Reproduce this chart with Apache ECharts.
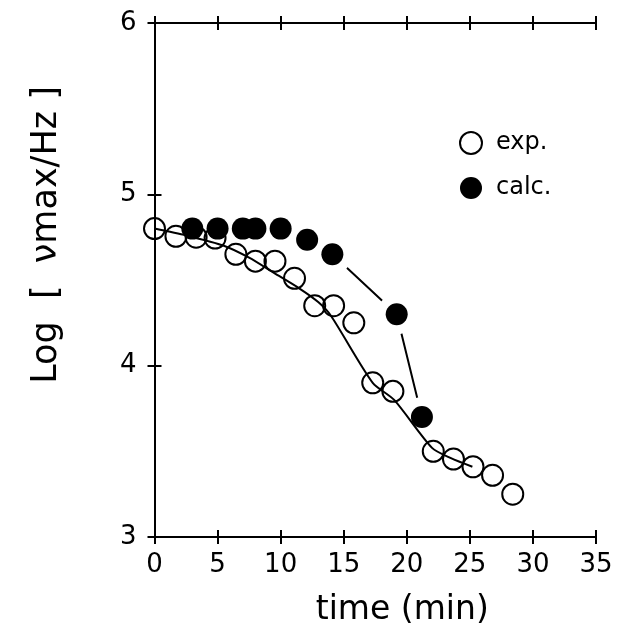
<!DOCTYPE html>
<html>
<head>
<meta charset="utf-8">
<script src="https://cdn.jsdelivr.net/npm/echarts@6/dist/echarts.min.js"></script>
<style>html,body{margin:0;padding:0;background:#fff}#c{width:630px;height:633px}</style>
</head>
<body>
<div id="c"></div>
<script>
// experimental points (open circles)
const expTime = [0, 1.7, 3.3, 4.8, 6.45, 8.0, 9.55, 11.1, 12.7, 14.2, 15.8, 17.3, 18.9, 22.1, 23.7, 25.25, 26.8, 28.4];
const expLog  = [4.80, 4.755, 4.75, 4.745, 4.65, 4.61, 4.61, 4.51, 4.35, 4.35, 4.25, 3.90, 3.85, 3.50, 3.455, 3.41, 3.36, 3.25];
// fitted curve through experimental points
const fitTime = [0, 2.5, 5.5, 7.5, 9.5, 11.5, 13, 14, 17.3, 19, 22, 23.5, 25.2];
const fitLog  = [4.80, 4.76, 4.70, 4.63, 4.54, 4.45, 4.37, 4.29, 3.90, 3.80, 3.52, 3.46, 3.41];
// calculated points (filled circles)
const calcTime = [3, 5, 7, 8, 10, 12.1, 14.1, 19.2, 21.2];
const calcLog  = [4.80, 4.80, 4.80, 4.80, 4.80, 4.735, 4.65, 4.30, 3.70];
// points of calc joined by a line
const calcLineTime = [14.1, 19.2, 21.2];
const calcLineLog  = [4.65, 4.30, 3.70];
// axes
const xTicks = [0, 5, 10, 15, 20, 25, 30, 35];
const yTicks = [3, 4, 5, 6];
const xName = 'time (min)';
const yName = 'Log  [  \u03bdmax/Hz ]';

const zip = (a, b) => a.map((v, i) => [v, b[i]]);
const FONT = 'DejaVu Sans';
const xBase = {type: 'value', min: xTicks[0], max: xTicks[xTicks.length - 1], interval: 5, splitLine: {show: false}};
const yBase = {type: 'value', min: yTicks[0], max: yTicks[yTicks.length - 1], interval: 1, splitLine: {show: false}};
const line = {show: true, lineStyle: {color: '#000', width: 2}};
const tickOut = {show: true, inside: false, length: 7, lineStyle: {color: '#000', width: 2}};
const tickIn = {show: true, inside: true, length: 7, lineStyle: {color: '#000', width: 2}};

const chart = echarts.init(document.getElementById('c'), null, {renderer: 'canvas'});
chart.setOption({
  animation: false,
  backgroundColor: '#fff',
  grid: {left: 154.5, right: 34, top: 23, bottom: 96, containLabel: false},
  legend: {
    orient: 'vertical', left: 454, top: 126, itemGap: 21, itemWidth: 24, itemHeight: 22,
    textStyle: {fontFamily: FONT, fontSize: 24, color: '#000', lineHeight: 24, padding: [0, 0, 0, 8]},
    data: [
      {name: 'exp.', icon: 'circle', itemStyle: {color: '#fff', borderColor: '#000', borderWidth: 2}},
      {name: 'calc.', icon: 'circle', itemStyle: {color: '#000', borderWidth: 0}}
    ]
  },
  xAxis: [
    Object.assign({}, xBase, {position: 'bottom', axisLine: line, axisTick: tickOut,
      axisLabel: {fontFamily: FONT, fontSize: 26, color: '#000', margin: 15},
      name: xName, nameLocation: 'middle', nameGap: 57,
      nameTextStyle: {fontFamily: FONT, fontSize: 33, color: '#000', padding: [0, 0, 0, 54]}}),
    Object.assign({}, xBase, {position: 'bottom', axisLine: line, axisTick: tickIn, axisLabel: {show: false}}),
    Object.assign({}, xBase, {position: 'top', axisLine: line, axisTick: tickOut, axisLabel: {show: false}}),
    Object.assign({}, xBase, {position: 'top', axisLine: line, axisTick: tickIn, axisLabel: {show: false}})
  ],
  yAxis: [
    Object.assign({}, yBase, {position: 'left', axisLine: line, axisTick: tickOut,
      axisLabel: {fontFamily: FONT, fontSize: 26, color: '#000', margin: 18},
      name: yName, nameLocation: 'middle', nameGap: 90,
      nameTextStyle: {fontFamily: FONT, fontSize: 35, color: '#000', padding: [0, 0, 0, 90]}}),
    Object.assign({}, yBase, {position: 'left', axisLine: line, axisTick: tickIn, axisLabel: {show: false}}),
    Object.assign({}, yBase, {position: 'right', axisLine: line, axisTick: {show: false}, axisLabel: {show: false}})
  ],
  series: [
    { // line for calc, with white halo gaps around markers
      type: 'line', name: 'calcLine', data: zip(calcLineTime, calcLineLog), z: 1,
      symbol: 'circle', symbolSize: 40, showSymbol: true,
      itemStyle: {color: '#fff', borderWidth: 0},
      lineStyle: {color: '#000', width: 2}, silent: true
    },
    {
      type: 'line', name: 'fit', data: zip(fitTime, fitLog), z: 2,
      showSymbol: false, symbol: 'none', smooth: 0.25,
      lineStyle: {color: '#000', width: 2}, silent: true
    },
    {
      type: 'scatter', name: 'exp.', data: zip(expTime, expLog), z: 3,
      symbol: 'circle', symbolSize: 21,
      itemStyle: {color: 'rgba(0,0,0,0)', borderColor: '#000', borderWidth: 2, opacity: 1}
    },
    {
      type: 'scatter', name: 'calc.', data: zip(calcTime, calcLog), z: 4,
      symbol: 'circle', symbolSize: 22,
      itemStyle: {color: '#000', opacity: 1}
    }
  ]
});
</script>
</body>
</html>
